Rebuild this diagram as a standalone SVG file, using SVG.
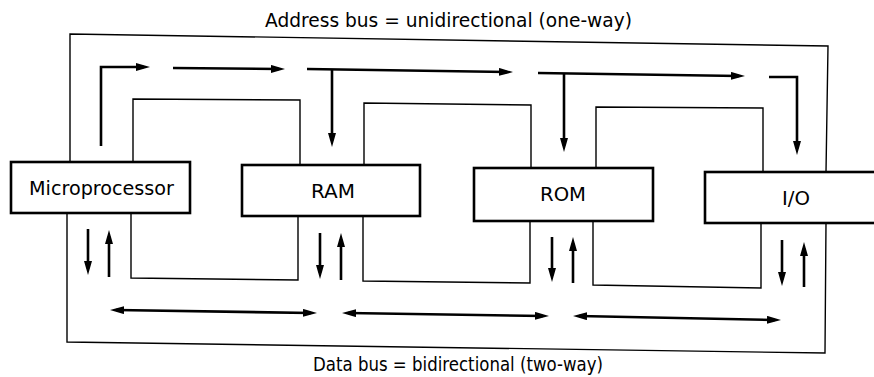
<svg xmlns="http://www.w3.org/2000/svg" width="874" height="377" viewBox="0 0 874 377">
<style>
.bg{fill:#ffffff}
.box{fill:#ffffff;stroke:#000000;stroke-width:2.6}
.bus{fill:none;stroke:#000000;stroke-width:1.4}
.arr{fill:none;stroke:#000000;stroke-width:2.6;marker-end:url(#ah)}
.bi{fill:none;stroke:#000000;stroke-width:2.6;marker-end:url(#ah);marker-start:url(#ah)}
.lbl{font-family:"DejaVu Sans","Liberation Sans",sans-serif;font-size:19px;fill:#000000}
.ttl{font-family:"DejaVu Sans","Liberation Sans",sans-serif;font-size:19px;fill:#000000}
</style>
<defs>
<marker id="ah" viewBox="0 0 14 8" markerWidth="14" markerHeight="8" refX="8" refY="4" orient="auto-start-reverse" markerUnits="userSpaceOnUse">
<path d="M0,0 L14,4 L0,8 z" fill="#000000"/>
</marker>
</defs>
<rect class="bg" x="0" y="0" width="874" height="377"/>
<text class="ttl" x="265" y="27" textLength="367" lengthAdjust="spacingAndGlyphs">Address bus = unidirectional (one-way)</text>
<text class="ttl" x="313" y="371" textLength="290" lengthAdjust="spacingAndGlyphs">Data bus = bidirectional (two-way)</text>
<g id="connectors">
<g id="address-bus">
<path class="bus" d="M70,162 L70,34 L828,46 L826,172"/>
<path class="bus" d="M133,162 L133,99 L300,100 L300,165"/>
<path class="bus" d="M364,165 L364,103 L531,105 L531,168"/>
<path class="bus" d="M596,168 L596,107 L763,108 L763,172"/>
<path class="arr" d="M101,146 L101,67 L144,67"/>
<path class="arr" d="M173,68 L279,69"/>
<path class="arr" d="M307,69 L507,72"/>
<path class="arr" d="M332,70 L332,141"/>
<path class="arr" d="M538,73 L739,76"/>
<path class="arr" d="M564,74 L564,146"/>
<path class="arr" d="M769,77 L797,77 L797,149"/>
</g>
<g id="data-bus">
<path class="bus" d="M67,213 L67,342 L825,353 L826,223"/>
<path class="bus" d="M131,213 L131,278 L298,280 L298,216"/>
<path class="bus" d="M363,216 L363,281 L530,283 L530,221"/>
<path class="bus" d="M593,221 L593,285 L761,288 L761,223"/>
<path class="arr" d="M88,229 L88,269"/>
<path class="arr" d="M109,277 L109,236"/>
<path class="arr" d="M320,233 L320,273"/>
<path class="arr" d="M341,280 L341,239"/>
<path class="arr" d="M552,237 L552,276"/>
<path class="arr" d="M573,283 L573,243"/>
<path class="arr" d="M782,240 L782,280"/>
<path class="arr" d="M804,287 L804,248"/>
<path class="bi" d="M116,310 L311,313"/>
<path class="bi" d="M348,313 L543,316"/>
<path class="bi" d="M579,316 L775,320"/>
</g>
</g>
<g id="microprocessor">
<rect class="box" x="11" y="162" width="179" height="51"/>
<text class="lbl" x="29" y="195" textLength="145" lengthAdjust="spacingAndGlyphs">Microprocessor</text>
</g>
<g id="ram">
<rect class="box" x="242" y="165" width="178" height="51"/>
<text class="lbl" x="311" y="198" textLength="44" lengthAdjust="spacingAndGlyphs">RAM</text>
</g>
<g id="rom">
<rect class="box" x="474" y="168" width="179" height="53"/>
<text class="lbl" x="540" y="201" textLength="46" lengthAdjust="spacingAndGlyphs">ROM</text>
</g>
<g id="io">
<rect class="box" x="705" y="172" width="180" height="51"/>
<text class="lbl" x="782" y="205" textLength="28" lengthAdjust="spacingAndGlyphs">I/O</text>
</g>
</svg>
